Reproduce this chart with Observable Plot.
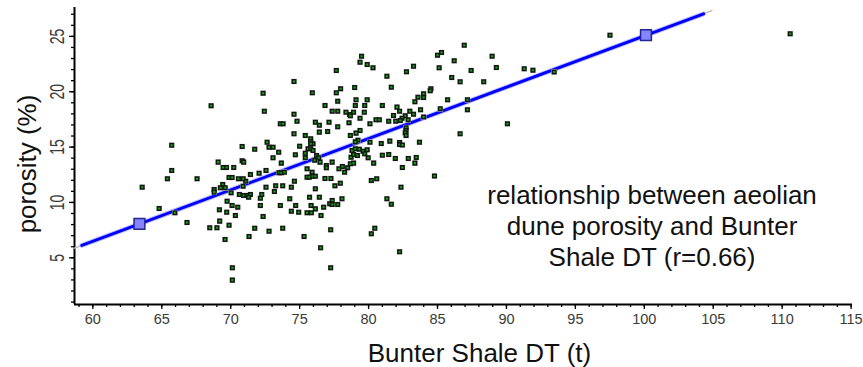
<!DOCTYPE html>
<html><head><meta charset="utf-8">
<script src="https://cdn.jsdelivr.net/npm/d3@7"></script>
<script src="https://cdn.jsdelivr.net/npm/@observablehq/plot@0.6"></script>
<style>html,body{margin:0;padding:0;background:#fff;} svg{display:block;}</style>
</head><body><div id="chart"></div>
<script>
// Bunter Shale DT (x) values of each sample
const shaleDT = [
65.72,65.72,65.41,67.56,63.58,64.81,65.95,66.83,68.58,68.48,69.0,68.8,68.8,69.42,69.25,69.6,69.18,69.74,69.71,69.2,
69.88,69.59,70.03,70.1,70.34,70.51,70.12,70.12,70.63,70.94,71.19,71.43,71.3,70.9,71.09,71.74,71.33,72.15,72.25,72.15,
72.35,72.56,72.78,73.26,73.17,73.77,73.6,74.28,74.4,74.71,74.4,73.77,74.93,74.62,72.35,72.44,70.83,70.83,70.94,69.09,
69.45,69.69,70.22,69.88,70.1,70.56,70.9,71.43,71.74,72.06,72.56,72.64,72.78,73.07,73.48,73.07,73.6,73.8,73.67,73.5,
73.67,73.89,74.59,74.59,74.59,74.81,74.69,75.0,
79.49,79.38,79.9,80.32,77.66,81.33,78.99,77.97,75.92,77.66,79.09,79.9,77.76,76.84,79.04,79.72,81.0,77.36,77.76,78.36,
78.62,78.68,78.91,79.69,79.38,78.58,76.14,76.43,77.13,77.76,80.1,80.54,80.78,76.43,77.03,78.68,79.38,79.09,75.41,75.8,
75.8,75.97,75.8,75.61,75.8,75.97,75.41,75.41,76.23,76.38,76.09,76.48,77.36,76.94,76.94,77.85,78.1,78.26,78.48,78.68,
78.91,78.73,78.91,79.19,78.8,79.04,79.33,79.6,79.9,80.1,79.72,79.97,80.37,80.92,81.0,79.23,79.04,75.54,75.54,75.7,
75.9,75.94,76.14,76.84,77.27,77.95,77.56,76.14,75.72,76.43,78.07,77.36,77.18,77.36,77.76,76.74,75.83,76.14,75.54,75.85,
76.55,77.25,75.32,76.52,77.25,80.45,80.2,80.2,80.59,81.33,81.65,86.94,85.0,85.29,86.21,83.26,82.75,85.12,87.44,86.03,
86.64,81.65,84.52,84.47,83.99,83.99,83.58,83.36,85.73,82.06,82.25,82.99,83.77,81.81,83.26,82.66,82.43,82.3,81.97,81.46,
82.87,83.99,85.2,87.17,87.17,82.72,82.72,82.66,82.72,83.69,81.54,82.25,82.25,82.45,86.64,81.46,81.94,82.88,83.46,83.36,
82.45,84.78,82.35,82.25,90.07,88.96,89.27,88.35,91.29,91.92,93.46,97.51,110.58
];
// aeolian dune porosity (%) of each sample
const porosityPct = [
15.17,12.89,12.14,12.14,11.38,9.45,9.07,8.19,18.73,7.72,7.72,11.17,10.93,11.62,11.32,11.32,9.34,10.11,9.12,8.31,
7.94,6.65,10.87,9.72,8.82,9.57,4.1,2.98,10.72,10.63,10.63,10.72,10.47,11.47,11.92,7.67,6.92,10.38,10.72,9.72,
8.73,11.38,7.4,11.5,10.99,11.5,9.72,10.33,11.38,9.72,9.21,7.67,9.12,11.92,19.87,18.24,15.05,13.76,13.64,13.64,
13.16,13.16,13.16,12.25,12.25,12.14,12.14,12.52,14.81,12.64,12.89,15.44,14.99,14.99,14.54,14.03,17.1,17.1,13.55,12.68,
12.68,12.73,20.93,17.97,16.2,17.34,14.3,15.08,
23.21,22.67,22.46,22.16,21.92,21.4,20.38,20.27,19.9,19.9,19.27,19.27,19.15,18.76,18.76,18.76,18.76,18.24,18.24,18.15,
17.95,17.83,18.15,18.15,17.6,17.2,17.25,16.98,17.25,16.83,17.1,17.47,17.47,16.35,16.4,16.05,16.5,16.26,16.05,15.75,
15.5,15.3,15.3,14.85,14.85,14.7,14.45,14.03,14.24,14.03,13.81,13.64,13.64,13.34,13.13,13.04,13.25,12.73,13.13,13.49,
13.55,14.08,14.33,14.24,14.7,14.85,14.81,14.63,14.76,15.44,14.39,14.03,13.55,15.32,14.27,15.62,15.47,13.04,12.28,12.28,
12.73,12.37,12.37,12.16,12.16,11.74,11.5,11.23,10.47,10.47,10.33,10.18,9.88,9.82,9.82,9.57,9.72,9.42,9.07,9.07,
8.82,7.53,6.92,5.9,4.1,7.67,7.17,11.98,12.14,10.33,9.84,24.2,23.3,23.55,22.8,22.31,21.8,22.16,21.92,21.28,
20.9,20.41,20.27,20.09,19.81,19.48,19.5,19.1,19.27,18.61,18.24,18.24,18.37,17.85,17.97,17.83,17.6,17.4,17.34,17.34,
17.47,17.71,18.46,19.27,18.37,16.75,16.5,16.3,16.05,15.44,15.54,15.42,15.24,15.18,16.2,14.33,13.97,13.97,14.06,13.55,
13.16,12.38,11.38,5.54,17.1,23.21,22.19,20.9,22.07,21.95,21.78,25.11,25.23
];
// regression line (fitted) and its two marked points
const fitLineDT = [59.2, 104.3];
const fitLinePorosity = [6.12, 27.04];
const fitExtentDT = [58.67, 104.9];
const fitExtentPorosity = [5.87, 27.33];
const markerDT = [63.38, 100.12];
const markerPorosity = [8.06, 25.11];

// axes
const xDomain = [58.67, 115.1];
const yDomain = [0.78, 27.61];
const xTickLabels = [60, 65, 70, 75, 80, 85, 90, 95, 100, 105, 110, 115];
const yTickLabels = [5, 10, 15, 20, 25];
const xMinorTicks = [59,60,61,62,63,64,65,66,67,68,69,70,71,72,73,74,75,76,77,78,79,80,81,82,83,84,85,86,87,88,89,90,91,92,93,94,95,96,97,98,99,100,101,102,103,104,105,106,107,108,109,110,111,112,113,114,115];
const yMinorTicks = [1,2,3,4,5,6,7,8,9,10,11,12,13,14,15,16,17,18,19,20,21,22,23,24,25,26,27];

const xTitle = "Bunter Shale DT (t)";
const yTitle = "porosity (%)";
const noteLines = ["relationship between aeolian", "dune porosity and Bunter", "Shale DT (r=0.66)"];
const notePos = {dt: 100.56, porosity: 4.30};

const samples = shaleDT.map((d, i) => ({dt: d, porosity: porosityPct[i]}));
const fitLine = fitLineDT.map((d, i) => ({dt: d, porosity: fitLinePorosity[i]}));
const fitExtent = fitExtentDT.map((d, i) => ({dt: d, porosity: fitExtentPorosity[i]}));
const markers = markerDT.map((d, i) => ({dt: d, porosity: markerPorosity[i]}));

const font = "'Liberation Sans', Arial, Helvetica, sans-serif";

const chart = Plot.plot({
  width: 863,
  height: 367,
  marginLeft: 74,
  marginRight: 11,
  marginTop: 7,
  marginBottom: 63,
  x: {domain: xDomain, label: null},
  y: {domain: yDomain, label: null},
  style: {fontFamily: font, background: "#fff", color: "#000"},
  marks: [
    Plot.axisX({ticks: xMinorTicks, tickSize: 3, tickFormat: () => "", label: null, stroke: "#000", strokeWidth: 1.3}),
    Plot.axisX({ticks: xTickLabels, tickSize: 5, tickFormat: () => "", label: null, stroke: "#000", strokeWidth: 1.3}),
    Plot.axisY({ticks: yMinorTicks, tickSize: 3, tickFormat: () => "", label: null, stroke: "#000", strokeWidth: 1.3}),
    Plot.axisY({ticks: yTickLabels, tickSize: 5, tickFormat: () => "", label: null, stroke: "#000", strokeWidth: 1.3}),
    Plot.ruleY([yDomain[0]], {stroke: "#000", strokeWidth: 2}),
    Plot.ruleX([xDomain[0]], {stroke: "#000", strokeWidth: 2}),
    Plot.text(xTickLabels, {x: d => d, text: d => String(d), frameAnchor: "bottom", dy: 19, lineAnchor: "bottom", fontSize: 14.5, fill: "#3a3a3a"}),
    Plot.text(yTickLabels, {y: d => d, text: d => String(d), frameAnchor: "left", textAnchor: "middle", dx: -10.5, rotate: -90, lineAnchor: "bottom", fontSize: 14, fill: "#3a3a3a"}),
    Plot.text([xTitle], {frameAnchor: "bottom", dx: 16, dy: 57, lineAnchor: "bottom", fontSize: 26, fill: "#111"}),
    Plot.text([yTitle], {frameAnchor: "left", textAnchor: "middle", dx: -38.5, dy: 8, rotate: -90, lineAnchor: "bottom", fontSize: 26, fill: "#111"}),
    Plot.line(fitExtent, {x: "dt", y: "porosity", stroke: "#bbbbbb", strokeWidth: 1.5}),
    Plot.line(fitLine, {x: "dt", y: "porosity", stroke: "#c4c4ff", strokeWidth: 5}),
    Plot.line(fitLine, {x: "dt", y: "porosity", stroke: "#0000ff", strokeWidth: 3}),
    Plot.dot(samples, {x: "dt", y: "porosity", symbol: "square", r: 3.2, fill: "#d4d4d4"}),
    Plot.dot(samples, {x: "dt", y: "porosity", symbol: "square", r: 2.0, fill: "#00b400", stroke: "#141414", strokeWidth: 1.5}),
    Plot.dot(markers, {x: "dt", y: "porosity", symbol: "square", r: 6.1, fill: "#8585ff", stroke: "#25258f", strokeWidth: 1.5}),
    Plot.text([noteLines.join("\n")], {x: () => notePos.dt, y: () => notePos.porosity, text: d => d, lineAnchor: "bottom", lineHeight: 1.19, textAnchor: "middle", fontSize: 26, fill: "#111"})
  ]
});

// y tick labels in the reference are drawn taller across than along the text
chart.querySelectorAll('g[aria-label="text"]').forEach(g => {
  g.querySelectorAll("text").forEach(t => {
    const tr = t.getAttribute("transform") || "";
    if (tr.includes("rotate") && /^\d+$/.test(t.textContent.trim())) {
      t.setAttribute("transform", tr + " scale(1,1.4)");
    }
  });
});

document.getElementById("chart").appendChild(chart);
</script>
</body></html>
